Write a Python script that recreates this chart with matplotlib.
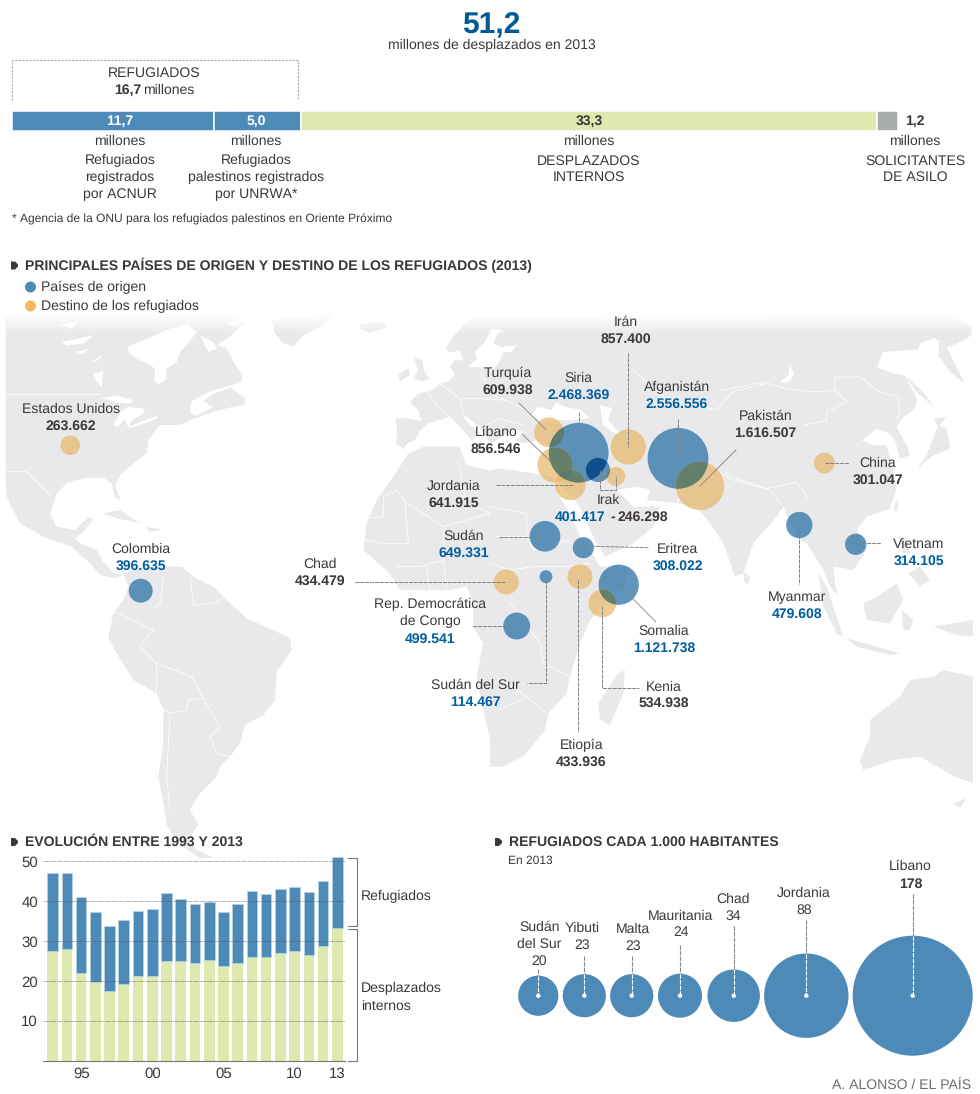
import matplotlib
matplotlib.use("Agg")
import matplotlib.pyplot as plt
import numpy as np
from matplotlib.patches import Circle, Polygon, Rectangle

W, H = 980, 1094
plt.rcParams['font.family'] = ['Liberation Sans', 'DejaVu Sans']
plt.rcParams['text.hinting'] = 'none'
plt.rcParams['text.hinting_factor'] = 1

# data
bar_values = [11.7, 5.0, 33.3, 1.2]
bar_labels = ['11,7', '5,0', '33,3', '1,2']

paises = ['Irán', 'Turquía', 'Siria', 'Afganistán', 'Pakistán', 'Líbano', 'Jordania', 'Sudán', 'Eritrea',
          'China', 'Vietnam', 'Myanmar', 'Somalia', 'Kenia', 'Etiopía', 'Chad', 'Colombia', 'Estados Unidos',
          'Irak', 'Irak destino', 'Sudán del Sur', 'Rep. Democrática\nde Congo']
refugiados_pais = [857400, 609938, 2468369, 2556556, 1616507, 856546, 641915, 649331, 308022,
                   301047, 314105, 479608, 1121738, 534938, 433936, 434479, 396635, 263662,
                   401417, 246298, 114467, 499541]
es_origen = [0, 0, 1, 1, 0, 0, 0, 1, 1,
             0, 1, 1, 1, 0, 0, 0, 1, 0,
             1, 0, 1, 1]

anios = list(range(1993, 2014))
desplazados = [27.4, 27.9, 22.0, 19.7, 17.4, 19.3, 21.2, 21.2, 25.0, 25.0, 24.6,
               25.3, 23.7, 24.4, 25.9, 25.9, 27.1, 27.4, 26.4, 28.8, 33.3]
refugiados = [19.8, 19.3, 19.0, 17.5, 16.4, 15.9, 16.3, 16.8, 17.0, 15.6, 14.6,
              14.6, 13.7, 15.0, 16.6, 15.9, 16.0, 16.1, 15.9, 16.2, 17.7]
anio_ticks = [1995, 2000, 2005, 2010, 2013]
anio_labels = ['95', '00', '05', '10', '13']

hab_paises = ['Sudán\ndel Sur', 'Yibuti', 'Malta', 'Mauritania', 'Chad', 'Jordania', 'Líbano']
hab_valores = [20, 23, 23, 24, 34, 88, 178]

# colours
BLUE = '#4d8ab7'
GREEN = '#dde9ae'
GREY = '#a8adab'
ORANGE = '#f5b95f'
LAND = '#e9e9eb'
TXT = '#3d3739'
NUM_BLUE = '#005f9e'

fig = plt.figure(figsize=(W / 100, H / 100), dpi=100, facecolor='white')
ax = fig.add_axes([0, 0, 1, 1])
ax.set_xlim(0, W)
ax.set_ylim(H, 0)
ax.axis('off')


def z(x0, y0, pts):
    # the map was traced on 3x crops, this puts it back in pixels
    return [(x0 + x / 3, y0 + y / 3) for x, y in pts]


def z4(pts): return z(0, 310, pts)
def z5(pts): return z(490, 310, pts)
def z6(pts): return z(0, 312, pts)
def z7(pts): return z(360, 312, pts)
def z8(pts): return z(720, 312, pts)


def label(x, y, s, size=9.9, bold=False, color=TXT, ha='center'):
    # matplotlib centres a bit high, one pixel down fits the original
    ax.text(x, y + 0.8, s, ha=ha, va='center', fontsize=size, color=color, zorder=6,
            fontweight='bold' if bold else 'normal')


land = [
    # north america
    z4([(17, 16), (700, 16), (735, 36), (690, 80), (650, 105), (680, 115), (700, 155), (727, 195), (725, 215),
        (690, 232), (735, 265), (735, 285), (700, 290), (640, 305), (585, 325), (540, 345), (480, 345), (445, 390),
        (440, 430), (400, 460), (365, 490), (345, 525), (362, 570), (345, 562), (335, 520), (310, 503), (250, 505),
        (200, 520), (170, 550), (150, 610), (170, 650), (225, 660), (265, 622), (280, 628), (250, 665), (225, 685),
        (235, 697), (290, 720), (305, 750), (345, 790), (370, 795), (345, 805), (300, 795), (270, 760), (215, 710),
        (130, 680), (60, 640), (20, 560), (17, 520)]),
    # south america
    z4([(370, 790), (420, 775), (490, 770), (545, 770), (580, 800), (640, 830), (690, 880), (740, 925), (820, 960),
        (870, 985), (875, 1020), (830, 1085), (825, 1170), (790, 1215), (735, 1245), (720, 1300), (690, 1340),
        (660, 1370), (650, 1400), (600, 1450), (570, 1500), (595, 1545), (565, 1590), (590, 1620), (640, 1642),
        (600, 1645), (550, 1610), (515, 1570), (500, 1545), (490, 1480), (475, 1400), (490, 1300), (490, 1200),
        (470, 1150), (400, 1110), (350, 1030), (325, 985), (340, 910), (370, 870), (385, 830)]),
    # greenland, iceland, uk, ireland
    z4([(815, 30), (1000, 16), (960, 50), (910, 75), (880, 110), (850, 100), (825, 70)]),
    z4([(1075, 45), (1120, 38), (1160, 40), (1155, 55), (1110, 68), (1085, 60)]),
    z4([(1240, 140), (1265, 150), (1275, 190), (1290, 205), (1270, 215), (1240, 205), (1255, 180)]),
    z4([(1195, 195), (1225, 175), (1230, 195), (1200, 215)]),
    # caribbean
    z4([(310, 610), (360, 600), (420, 640), (350, 625)]),
    z4([(440, 650), (490, 660), (445, 665)]),
    # africa
    z4([(1225, 430), (1270, 410), (1380, 410), (1385, 430), (1400, 465), (1470, 482)]) +
    z5([(30, 475), (130, 490), (190, 500), (205, 555), (240, 610), (270, 680), (310, 735), (330, 770), (420, 770),
        (400, 830), (350, 880), (300, 930), (270, 1000), (240, 1100), (230, 1150), (175, 1210), (165, 1260),
        (100, 1340), (40, 1370), (0, 1370)]) +
    z4([(1470, 1290), (1450, 1200), (1430, 1100), (1450, 1000), (1420, 950), (1420, 880), (1400, 830), (1350, 840),
        (1200, 840), (1170, 790), (1090, 720), (1100, 640), (1130, 570), (1180, 500)]),
    # eurasia
    z7([(130, 410), (108, 395), (112, 350), (105, 320), (140, 318), (185, 328), (175, 295), (150, 270), (175, 245),
        (215, 235), (240, 215), (270, 205), (285, 185), (270, 165), (283, 145), (310, 145), (300, 115), (270, 122),
        (257, 110), (275, 80), (310, 40), (345, 16)]) +
    z8([(700, 12), (755, 45), (755, 70), (700, 100), (680, 105), (735, 215), (690, 180), (655, 130), (658, 85),
        (640, 78), (600, 95), (595, 112), (490, 120), (470, 165), (520, 185), (555, 190), (590, 260), (585, 290),
        (545, 320), (530, 345), (560, 400), (570, 430), (540, 440), (525, 385), (510, 365), (470, 350), (425, 385),
        (460, 400), (500, 400), (515, 460), (530, 530), (510, 590)]) +
    z5([(1130, 620), (1100, 660), (1130, 720), (1090, 780), (1030, 770), (1035, 820), (1045, 860), (1020, 830),
        (1000, 780), (950, 700), (930, 690), (900, 640), (880, 590), (860, 620), (790, 700), (760, 790), (745, 795),
        (735, 800), (700, 700), (660, 640), (620, 590), (560, 580), (470, 570), (480, 540), (440, 530), (380, 540),
        (430, 590), (510, 590), (500, 620), (490, 650), (430, 700), (345, 740), (310, 680), (270, 590), (225, 540),
        (215, 500), (190, 470)]) +
    z7([(570, 400), (530, 385), (490, 395), (470, 385), (490, 360), (455, 350), (440, 365), (415, 380), (395, 395),
        (375, 370), (360, 345), (320, 315), (310, 310), (320, 330), (350, 355), (345, 375), (335, 385), (310, 355),
        (275, 320), (270, 315), (235, 325), (205, 335), (180, 355), (165, 385), (140, 395)]),
    # asia islands
    z8([(590, 470), (640, 430), (690, 410), (680, 350), (655, 340), (620, 430)]),
    z8([(640, 320), (680, 315), (655, 345)]),
    z8([(555, 190), (610, 240), (640, 280), (625, 270), (590, 240)]),
    z8([(525, 570), (535, 565), (530, 600), (522, 595)]),
    z5([(985, 790), (1010, 830), (1060, 980), (1040, 970), (1000, 890)]),
    z5([(1070, 985), (1230, 1030), (1200, 1035), (1100, 1010)]),
    z5([(1120, 880), (1160, 860), (1220, 820), (1240, 870), (1200, 940), (1130, 930)]),
    z5([(1235, 900), (1270, 930), (1260, 960), (1240, 960)]),
    z5([(1330, 950), (1450, 930), (1450, 980), (1400, 975)]),
    z5([(1255, 790), (1290, 770), (1320, 810), (1290, 830)]),
    z5([(1230, 690), (1245, 680), (1260, 730), (1240, 730)]),
    z5([(760, 785), (780, 800), (775, 825), (762, 815)]),
    # australia, tasmania, madagascar
    z5([(1140, 1230), (1230, 1160), (1260, 1110), (1330, 1100), (1360, 1080), (1450, 1100), (1450, 1420),
        (1395, 1400), (1290, 1340), (1210, 1350), (1120, 1380), (1110, 1350), (1140, 1280)]),
    z5([(1390, 1480), (1430, 1465), (1410, 1495)]),
    z5([(385, 1090), (405, 1080), (400, 1150), (360, 1245), (330, 1230), (325, 1180)]),
]

water = [
    # hudson bay and the canadian channels
    z6([(385, 105), (440, 80), (510, 50), (560, 35), (590, 60), (560, 100), (540, 120), (530, 150), (500, 170),
        (497, 205), (475, 218), (462, 205), (465, 170), (445, 155), (410, 140), (385, 120)]),
    z6([(600, 70), (640, 90), (650, 110), (625, 120)]),
    z6([(680, 30), (705, 45), (735, 28), (740, 20)]),
    z6([(180, 40), (240, 25), (215, 50)]),
    z6([(185, 90), (280, 70), (250, 95), (200, 100)]),
    z6([(225, 120), (270, 110), (250, 125)]),
    z6([(275, 150), (305, 130), (295, 145)]),
    z6([(280, 185), (310, 178), (305, 225), (290, 210)]),
    # great lakes and st lawrence
    z6([(305, 258), (350, 250), (400, 265), (390, 275), (345, 270)]),
    z6([(340, 340), (360, 300), (385, 285), (435, 290), (430, 305), (395, 325), (385, 345), (440, 322), (475, 312),
        (470, 320), (410, 342), (385, 348), (375, 320), (352, 345)]),
    z6([(575, 268), (625, 240), (720, 212), (680, 232), (640, 245), (610, 268), (640, 285), (585, 312), (570, 300)]),
    # baltic, black sea, caspian
    z7([(325, 165), (350, 140), (345, 120), (375, 90), (395, 50), (425, 55), (410, 70), (400, 95), (425, 105),
        (470, 100), (455, 120), (430, 120), (420, 145), (400, 175), (370, 165)]),
    [(532, 415), (538, 407), (552, 410), (556, 402), (565, 407), (580, 410), (590, 418), (575, 420), (555, 420),
     (540, 422)],
    [(600, 405), (612, 408), (608, 420), (622, 436), (612, 432), (603, 425)],
    # baikal
    z8([(180, 210), (205, 190), (210, 160), (222, 185), (205, 212)]),
]

borders = [
    z4([(17, 253), (300, 253)]),
    z4([(17, 485), (80, 485), (110, 515), (150, 555)]),
    z4([(460, 895), (480, 880), (490, 800)]),
    z4([(330, 900), (400, 930), (460, 960), (420, 1010), (470, 1060), (470, 1150)]),
    z4([(470, 1060), (575, 1100), (610, 1165), (660, 1250), (630, 1280)]),
    z4([(490, 1200), (510, 1210), (500, 1400), (510, 1500)]),
    z4([(510, 1210), (560, 1200), (565, 1170), (610, 1165)]),
    z4([(570, 800), (580, 885), (640, 880), (680, 860)]),
    z4([(630, 1280), (650, 1330), (690, 1340)]),
    z4([(1190, 540), (1215, 575), (1330, 650), (1470, 610)]),
    z4([(1215, 575), (1225, 700), (1150, 700), (1090, 690)]),
    z4([(1330, 650), (1330, 750), (1260, 770), (1190, 770)]),
    z4([(1190, 540), (1150, 560), (1150, 620), (1095, 625)]),
    z4([(1280, 770), (1290, 840)]), z4([(1330, 750), (1340, 840)]), z4([(1380, 480), (1400, 580), (1470, 610)]),
    z5([(0, 590), (110, 610), (110, 680)]),
    z5([(20, 680), (110, 680), (130, 720), (240, 690)]),
    z5([(0, 760), (60, 780), (130, 770), (230, 770), (300, 760)]),
    z5([(60, 880), (150, 1000), (160, 1060), (240, 1100)]),
    z5([(20, 1100), (110, 1160), (170, 1210)]),
    z5([(30, 1200), (110, 1160)]),
    z8([(0, 235), (60, 225), (130, 210), (200, 230), (280, 240), (345, 235), (345, 195), (420, 195), (480, 240),
        (535, 255), (540, 300), (530, 330)]),
    z8([(345, 235), (380, 270), (320, 300), (320, 325), (250, 340)]),
    z8([(15, 480), (50, 500), (140, 530), (230, 510), (265, 560)]),
    z5([(430, 180), (520, 260), (680, 300), (730, 245), (830, 220)]),
    z5([(560, 580), (580, 530), (640, 460), (730, 510), (840, 540), (880, 590)]),
    z7([(200, 240), (240, 290), (270, 315)]), z7([(240, 215), (300, 260), (360, 260), (440, 265), (510, 300)]),
    z7([(300, 260), (310, 310)]), z7([(360, 345), (420, 320), (490, 340)]), z7([(360, 180), (400, 250), (440, 265)]),
]

clip = Rectangle((5, 312), 968, 550, transform=ax.transData)
for pts in land:
    p = Polygon(pts, closed=True, facecolor=LAND, edgecolor='none', zorder=1)
    ax.add_patch(p)
    p.set_clip_path(clip)
for pts in water:
    ax.add_patch(Polygon(pts, closed=True, facecolor='white', edgecolor='none', zorder=1.5))
for pts in borders:
    xs, ys = zip(*pts)
    ax.plot(xs, ys, color='white', lw=0.55, zorder=2)

# top of the map fades out
fade = np.ones((24, 2, 4))
fade[:, :, 3] = np.linspace(1, 0, 24)[:, None]
ax.imshow(fade, extent=(0, W, 336, 312), aspect='auto', zorder=3)
ax.set_xlim(0, W)
ax.set_ylim(H, 0)

# header
label(491.5, 24.5, '51,2', 21.5, True, '#005a96')
label(492, 45, 'millones de desplazados en 2013', 9.9)

ax.plot([12, 12, 298, 298], [100, 60, 60, 100], color='#aaaaaa', lw=0.8, ls=(0, (2, 1.2)))
label(154, 72, 'REFUGIADOS', 10.3)
label(114, 89, '16,7', 10, True, ha='left')
label(143.5, 89, 'millones', 10, ha='left')

# stacked bar under the header
bar_ax = fig.add_axes([12 / W, 1 - 131 / H, 886 / W, 20 / H])
bar_ax.patch.set_alpha(0)
left = 0
for v, c in zip(bar_values, [BLUE, BLUE, GREEN, GREY]):
    bar_ax.barh(0, v, left=left, height=1, color=c, edgecolor='white', linewidth=1.1)
    left += v
bar_ax.set_xlim(0, sum(bar_values))
bar_ax.set_ylim(-0.5, 0.5)
bar_ax.axis('off')

bar_lx = [120, 256, 589, 915]
for x, s, c in zip(bar_lx, bar_labels, ['white', 'white', TXT, TXT]):
    bar_ax.text(x, 121, s, ha='center', va='center', fontsize=9.8, fontweight='bold', color=c,
                transform=ax.transData)
    label(x, 140, 'millones', 10)

for x, lines, ys in [(120, ['Refugiados', 'registrados', 'por ACNUR'], [160, 177, 194]),
                     (256, ['Refugiados', 'palestinos registrados', 'por UNRWA*'], [160, 177, 194]),
                     (589, ['DESPLAZADOS', 'INTERNOS'], [160, 176]),
                     (915, ['SOLICITANTES', 'DE ASILO'], [160, 176])]:
    for s, y in zip(lines, ys):
        label(x, y, s, 10.4)

label(12, 219, '* Agencia de la ONU para los refugiados palestinos en Oriente Próximo', 8.6, ha='left')


def section(x, y, s, size=10.25):
    ax.add_patch(Polygon([(x, y - 4), (x + 4, y - 4), (x + 7, y - 1), (x + 7, y + 1), (x + 4, y + 4), (x, y + 4)],
                         closed=True, facecolor=TXT, edgecolor='none'))
    label(x + 13.5, y - 0.5, s, size, True, ha='left')


section(11, 265.5, 'PRINCIPALES PAÍSES DE ORIGEN Y DESTINO DE LOS REFUGIADOS (2013)')
section(11, 842, 'EVOLUCIÓN ENTRE 1993 Y 2013')
section(495, 842, 'REFUGIADOS CADA 1.000 HABITANTES')
label(508, 860, 'En 2013', 8.9, ha='left')
label(971, 1084.5, 'A. ALONSO / EL PAÍS', 10.2, color='#6e6e6e', ha='right')

ax.add_patch(Circle((30.5, 287), 5.5, facecolor=BLUE, edgecolor='none'))
ax.add_patch(Circle((30.5, 306), 5.5, facecolor=ORANGE, edgecolor='none'))
label(41, 286.5, 'Países de origen', 9.8, ha='left')
label(41, 305.5, 'Destino de los refugiados', 9.8, ha='left')

# map bubbles, radius goes with the square root of the refugees
map_centers = [(628.3, 447), (549, 432.3), (578.7, 452.7), (678, 458.3), (700, 486), (555, 465), (570.3, 485),
               (545, 536.3), (583.3, 547.7), (824.3, 463), (855.7, 544.3), (799.3, 525), (618.7, 584.7),
               (602.3, 603.3), (580, 576.7), (506.3, 582), (140.7, 590.7), (70.3, 445.3),
               (598, 470), (615.7, 476.3), (546, 576.7), (516.7, 626)]
radios = [0.019 * np.sqrt(v) for v in refugiados_pais]
for (cx, cy), r, o in zip(map_centers, radios, es_origen):
    c, a = ('#2e74a8', 0.76) if o else ('#e8b86a', 0.72)
    ax.add_patch(Circle((cx, cy), r, facecolor=c, alpha=a, edgecolor='none', zorder=4))

# where orange and blue meet the original multiplies, darker olive
for (cx, cy), r, o in zip(map_centers, radios, es_origen):
    if o:
        continue
    for (bx, by), br, bo in zip(map_centers, radios, es_origen):
        if bo and np.hypot(cx - bx, cy - by) < r + br:
            p = Circle((cx, cy), r, facecolor='#5a7a68', edgecolor='none', alpha=0.9, zorder=4.1)
            ax.add_patch(p)
            p.set_clip_path(Circle((bx, by), br, transform=ax.transData))

# irak inside siria is navy
i_irak, i_siria = paises.index('Irak'), paises.index('Siria')
p = Circle(map_centers[i_irak], radios[i_irak], facecolor='#0d4a8a', edgecolor='none', alpha=0.9, zorder=4.2)
ax.add_patch(p)
p.set_clip_path(Circle(map_centers[i_siria], radios[i_siria], transform=ax.transData))

leaders = [
    [(627.7, 352.7), (627.7, 446.7)], [(579.3, 411.7), (579.3, 450)], [(496, 485.3), (573.3, 485.3)],
    [(498.7, 537.3), (545, 537.3)], [(648.3, 547.7), (580, 546)], [(355.3, 582.3), (505, 582.3)],
    [(678, 419.3), (678, 458.3)], [(825, 463.3), (849.3, 463.3)], [(856.7, 543.3), (880.7, 543.3)],
    [(799.3, 525), (799.3, 584)], [(602.3, 606), (602.3, 688.3), (639, 688.3)], [(578.3, 580), (578.3, 732.3)],
    [(546.3, 580), (546.3, 683.3), (526.7, 683.3)], [(473.3, 626), (516.7, 626)],
    [(600.3, 470), (600.3, 490), (615.7, 490), (615.7, 476.3)],
]
slanted = [[(519.3, 403.3), (545.7, 429.3)], [(522.3, 434.3), (553.3, 464)], [(736, 450), (700, 486)],
           [(619.3, 585), (655.7, 621.7)]]
for pts in leaders:
    xs, ys = zip(*pts)
    ax.plot(xs, ys, color='#808080', lw=0.7, ls=(0, (4, 1)), zorder=5)
for pts in slanted:
    xs, ys = zip(*pts)
    ax.plot(xs, ys, color='#808080', lw=0.6, zorder=5)

map_labels = [(626, 321, 338), (507.3, 372.3, 389), (578.3, 377, 394), (677, 386.3, 403), (765.7, 415.3, 432),
              (496.3, 431.3, 448), (453.3, 485.3, 502), (463.3, 535.3, 552), (677.7, 548.3, 565),
              (877.7, 462.3, 479), (918.7, 543.3, 560.3), (797.3, 596.7, 613.3), (664, 630.7, 647.7),
              (664, 686, 702.7), (581.3, 744.7, 761.7), (319.7, 563, 580), (141.3, 548.3, 565.3), (71, 408, 425)]
for (x, y1, y2), n, v, o in zip(map_labels, paises, refugiados_pais, es_origen):
    label(x, y1, n)
    label(x, y2, f'{v:,}'.replace(',', '.'), 10, True, NUM_BLUE if o else TXT)

label(608.3, 499, 'Irak')
label(580, 516, '401.417', 10, True, NUM_BLUE)
label(613, 516, '-', 10, True)
label(643, 516, '246.298', 10, True)
label(475, 684, 'Sudán del Sur')
label(475, 701, '114.467', 10, True, NUM_BLUE)
label(430, 604, 'Rep. Democrática')
label(430, 621, 'de Congo')
label(430, 638, '499.541', 10, True, NUM_BLUE)

# bars 1993-2013
ev = fig.add_axes([43 / W, 1 - 1060.7 / H, 302 / W, 203.7 / H])
ev.patch.set_alpha(0)
ev.bar(anios, desplazados, width=0.75, color=GREEN, linewidth=0, zorder=2)
ev.bar(anios, refugiados, bottom=desplazados, width=0.75, color=BLUE, edgecolor='#b5d3e5', linewidth=0.6, zorder=2)
ev.set_xlim(1992.32, 2013.54)
ev.set_ylim(0, 51.1)
ev.set_yticks([10, 20, 30, 40, 50])
ev.set_xticks(anio_ticks, anio_labels)
ev.tick_params(axis='both', length=0, labelsize=10.5, labelcolor=TXT)
ev.tick_params(axis='y', pad=3.6)
ev.tick_params(axis='x', pad=4.5)
ev.yaxis.grid(True, color='#555555', lw=0.7, ls=(0, (6, 1)), alpha=0.42, zorder=3)
ev.set_axisbelow(False)
for s in ['top', 'left', 'right']:
    ev.spines[s].set_visible(False)
ev.spines['bottom'].set_color('#777777')
ev.spines['bottom'].set_linewidth(0.8)

ax.plot([348, 357, 357, 348], [857.7, 857.7, 926.3, 926.3], color='#777777', lw=0.8)
ax.plot([348, 357, 357, 348], [929.3, 929.3, 1060.7, 1060.7], color='#777777', lw=0.8)
label(361, 896, 'Refugiados', 9.9, ha='left')
label(361, 988, 'Desplazados', 9.9, ha='left')
label(361, 1005, 'internos', 9.9, ha='left')

# refugees per 1000 inhabitants
hab_x = [538.3, 584.3, 631.7, 680, 733.7, 806.3, 912.7]
hab_y = 995.7
hab_top = [969.3, 956, 956, 945, 926, 920, 894]
for x, v, t in zip(hab_x, hab_valores, hab_top):
    r = 4.497 * np.sqrt(v)
    ax.add_patch(Circle((x, hab_y), r, facecolor=BLUE, edgecolor='none', zorder=4))
    ax.plot([x, x], [t, hab_y - r], color='#888888', lw=0.8, ls=(0, (4, 1)), zorder=5)
    ax.plot([x, x], [hab_y - r, hab_y], color='white', lw=0.8, ls=(0, (4, 1)), zorder=5)
    ax.add_patch(Circle((x, hab_y), 2.2, facecolor='white', edgecolor='none', zorder=6))

label(539.7, 926, 'Sudán')
label(539.3, 943, 'del Sur')
label(539.5, 960, str(hab_valores[0]))
hab_lab = [(582.3, 927, 944), (633.3, 928, 945), (680.7, 915, 932), (733, 898, 915), (804, 892, 909)]
for (x, y1, y2), n, v in zip(hab_lab, hab_paises[1:6], hab_valores[1:6]):
    label(x, y1, n)
    label(x, y2, str(v))
label(910.3, 865.5, 'Líbano')
label(910.3, 883, '178', 10, True)

fig.savefig('out.png', dpi=100, facecolor='white')
